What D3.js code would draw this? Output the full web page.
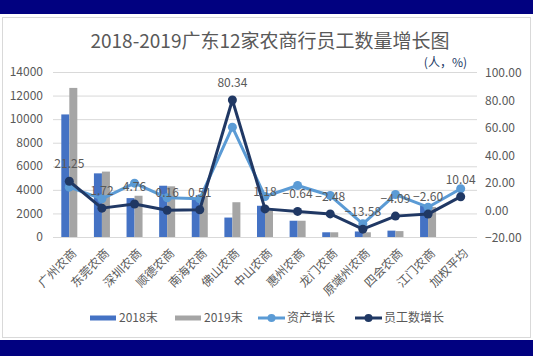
<!DOCTYPE html>
<html><head><meta charset="utf-8">
<script src="https://cdn.jsdelivr.net/npm/d3@7"></script>
<style>
html,body{margin:0;padding:0;background:#fff;}
text{font-family:"Noto Sans CJK SC","Noto Sans",sans-serif;}
</style></head>
<body><svg id="c" width="533" height="356"></svg>
<script>
const categories = ["广州农商","东莞农商","深圳农商","顺德农商","南海农商","佛山农商","中山农商","惠州农商","龙门农商","原端州农商","四会农商","江门农商","加权平均"];
const staff2018 = [10400,5400,3300,4350,3250,1650,2650,1380,400,470,540,2700,null];
const staff2019 = [12650,5550,3500,4300,3400,2950,2400,1380,400,400,500,2550,null];
const assetGrowth = [17.0,8.5,19.9,9.2,8.5,60.6,10.2,18.2,10.9,-9.7,11.6,2.4,15.8];
const staffGrowth = [21.25,1.72,4.76,0.16,0.51,80.34,1.18,-0.64,-2.48,-13.58,-4.09,-2.60,10.04];
const leftTicks = [0,2000,4000,6000,8000,10000,12000,14000];
const rightTicks = [-20,0,20,40,60,80,100];

const svg = d3.select("#c");
const W = 533, H = 356;
const gray = "#595959";

// frame
svg.append("rect").attr("x",0).attr("y",0).attr("width",W).attr("height",14).attr("fill","#010180");
svg.append("rect").attr("x",0).attr("y",340).attr("width",W).attr("height",16).attr("fill","#010180");
svg.append("rect").attr("x",2.5).attr("y",17.5).attr("width",W-5).attr("height",320).attr("fill","#fff").attr("stroke","#d9d9d9");

const x0 = 53, x1 = 477, yTop = 72, yBot = 237;
const x = d3.scaleBand().domain(categories).range([x0,x1]).paddingInner(0).paddingOuter(0);
const yL = d3.scaleLinear().domain([0,14000]).range([yBot,yTop]);
const yR = d3.scaleLinear().domain([-20,100]).range([238,73]);

// gridlines
svg.append("g").selectAll("line").data(leftTicks).join("line")
  .attr("x1",x0).attr("x2",x1).attr("y1",d=>yL(d)+0.5).attr("y2",d=>yL(d)+0.5)
  .attr("stroke","#d9d9d9").attr("stroke-width",1);

// left axis labels
svg.append("g").selectAll("text").data(leftTicks).join("text")
  .attr("x",43).attr("y",d=>yL(d)).attr("dy","0.35em").attr("text-anchor","end")
  .attr("font-size",12).attr("fill",gray).text(d=>d);
// right axis labels
svg.append("g").selectAll("text").data(rightTicks).join("text")
  .attr("x",485).attr("y",d=>yR(d)).attr("dy","0.35em").attr("text-anchor","start")
  .attr("font-size",12).attr("fill",gray).text(d=>d3.format(".2f")(d));

// bars
const bw = 8;
const cx = d => x(d)+x.bandwidth()/2;
svg.append("g").selectAll("rect").data(categories.map((c,i)=>({c,v:staff2018[i]})).filter(d=>d.v!=null)).join("rect")
  .attr("x",d=>cx(d.c)-bw).attr("width",bw).attr("y",d=>yL(d.v)).attr("height",d=>yL(0)-yL(d.v)).attr("fill","#4472C4");
svg.append("g").selectAll("rect").data(categories.map((c,i)=>({c,v:staff2019[i]})).filter(d=>d.v!=null)).join("rect")
  .attr("x",d=>cx(d.c)).attr("width",bw).attr("y",d=>yL(d.v)).attr("height",d=>yL(0)-yL(d.v)).attr("fill","#A5A5A5");

// lines
function drawLine(vals,color){
  const pts = categories.map((c,i)=>[cx(c),yR(vals[i])]);
  svg.append("path").attr("d",d3.line()(pts)).attr("fill","none").attr("stroke",color)
    .attr("stroke-width",3).attr("stroke-linejoin","round").attr("stroke-linecap","round");
  svg.append("g").selectAll("circle").data(pts).join("circle")
    .attr("cx",d=>d[0]).attr("cy",d=>d[1]).attr("r",4.5).attr("fill",color);
}
drawLine(assetGrowth,"#5B9BD5");
drawLine(staffGrowth,"#203864");

// data labels
svg.append("g").selectAll("text").data(categories.map((c,i)=>({c,v:staffGrowth[i]}))).join("text")
  .attr("x",d=>cx(d.c)).attr("y",d=>yR(d.v)-13).attr("text-anchor","middle")
  .attr("font-size",12).attr("fill",gray).text(d=>d3.format(".2f")(d.v));

// x labels
svg.append("g").selectAll("text").data(categories).join("text")
  .attr("transform",d=>`translate(${cx(d)+5},${yBot+14}) rotate(-45)`)
  .attr("text-anchor","end").attr("dy","0.35em")
  .attr("font-size",12).attr("fill",gray).text(d=>d);

// title
svg.append("text").attr("x",270).attr("y",48).attr("text-anchor","middle")
  .attr("font-size",19).attr("fill",gray).text("2018-2019广东12家农商行员工数量增长图");
svg.append("text").attr("x",467).attr("y",67).attr("text-anchor","end")
  .attr("font-size",12).attr("fill","#203864").text("(人，%)");

// legend
const lg = svg.append("g");
const legendItems = [
  {name:"2018末",type:"bar",color:"#4472C4",x:90},
  {name:"2019末",type:"bar",color:"#A5A5A5",x:175},
  {name:"资产增长",type:"line",color:"#5B9BD5",x:258},
  {name:"员工数增长",type:"line",color:"#203864",x:355}
];
const ly = 318;
legendItems.forEach(it=>{
  if(it.type==="bar"){
    lg.append("rect").attr("x",it.x).attr("y",ly-2.5).attr("width",26).attr("height",5).attr("fill",it.color);
  } else {
    lg.append("line").attr("x1",it.x).attr("x2",it.x+27).attr("y1",ly).attr("y2",ly).attr("stroke",it.color).attr("stroke-width",3);
    lg.append("circle").attr("cx",it.x+13.5).attr("cy",ly).attr("r",4).attr("fill",it.color);
  }
  lg.append("text").attr("x",it.x+29).attr("y",ly).attr("dy","0.35em").attr("font-size",12).attr("fill",gray).text(it.name);
});
</script></body></html>
